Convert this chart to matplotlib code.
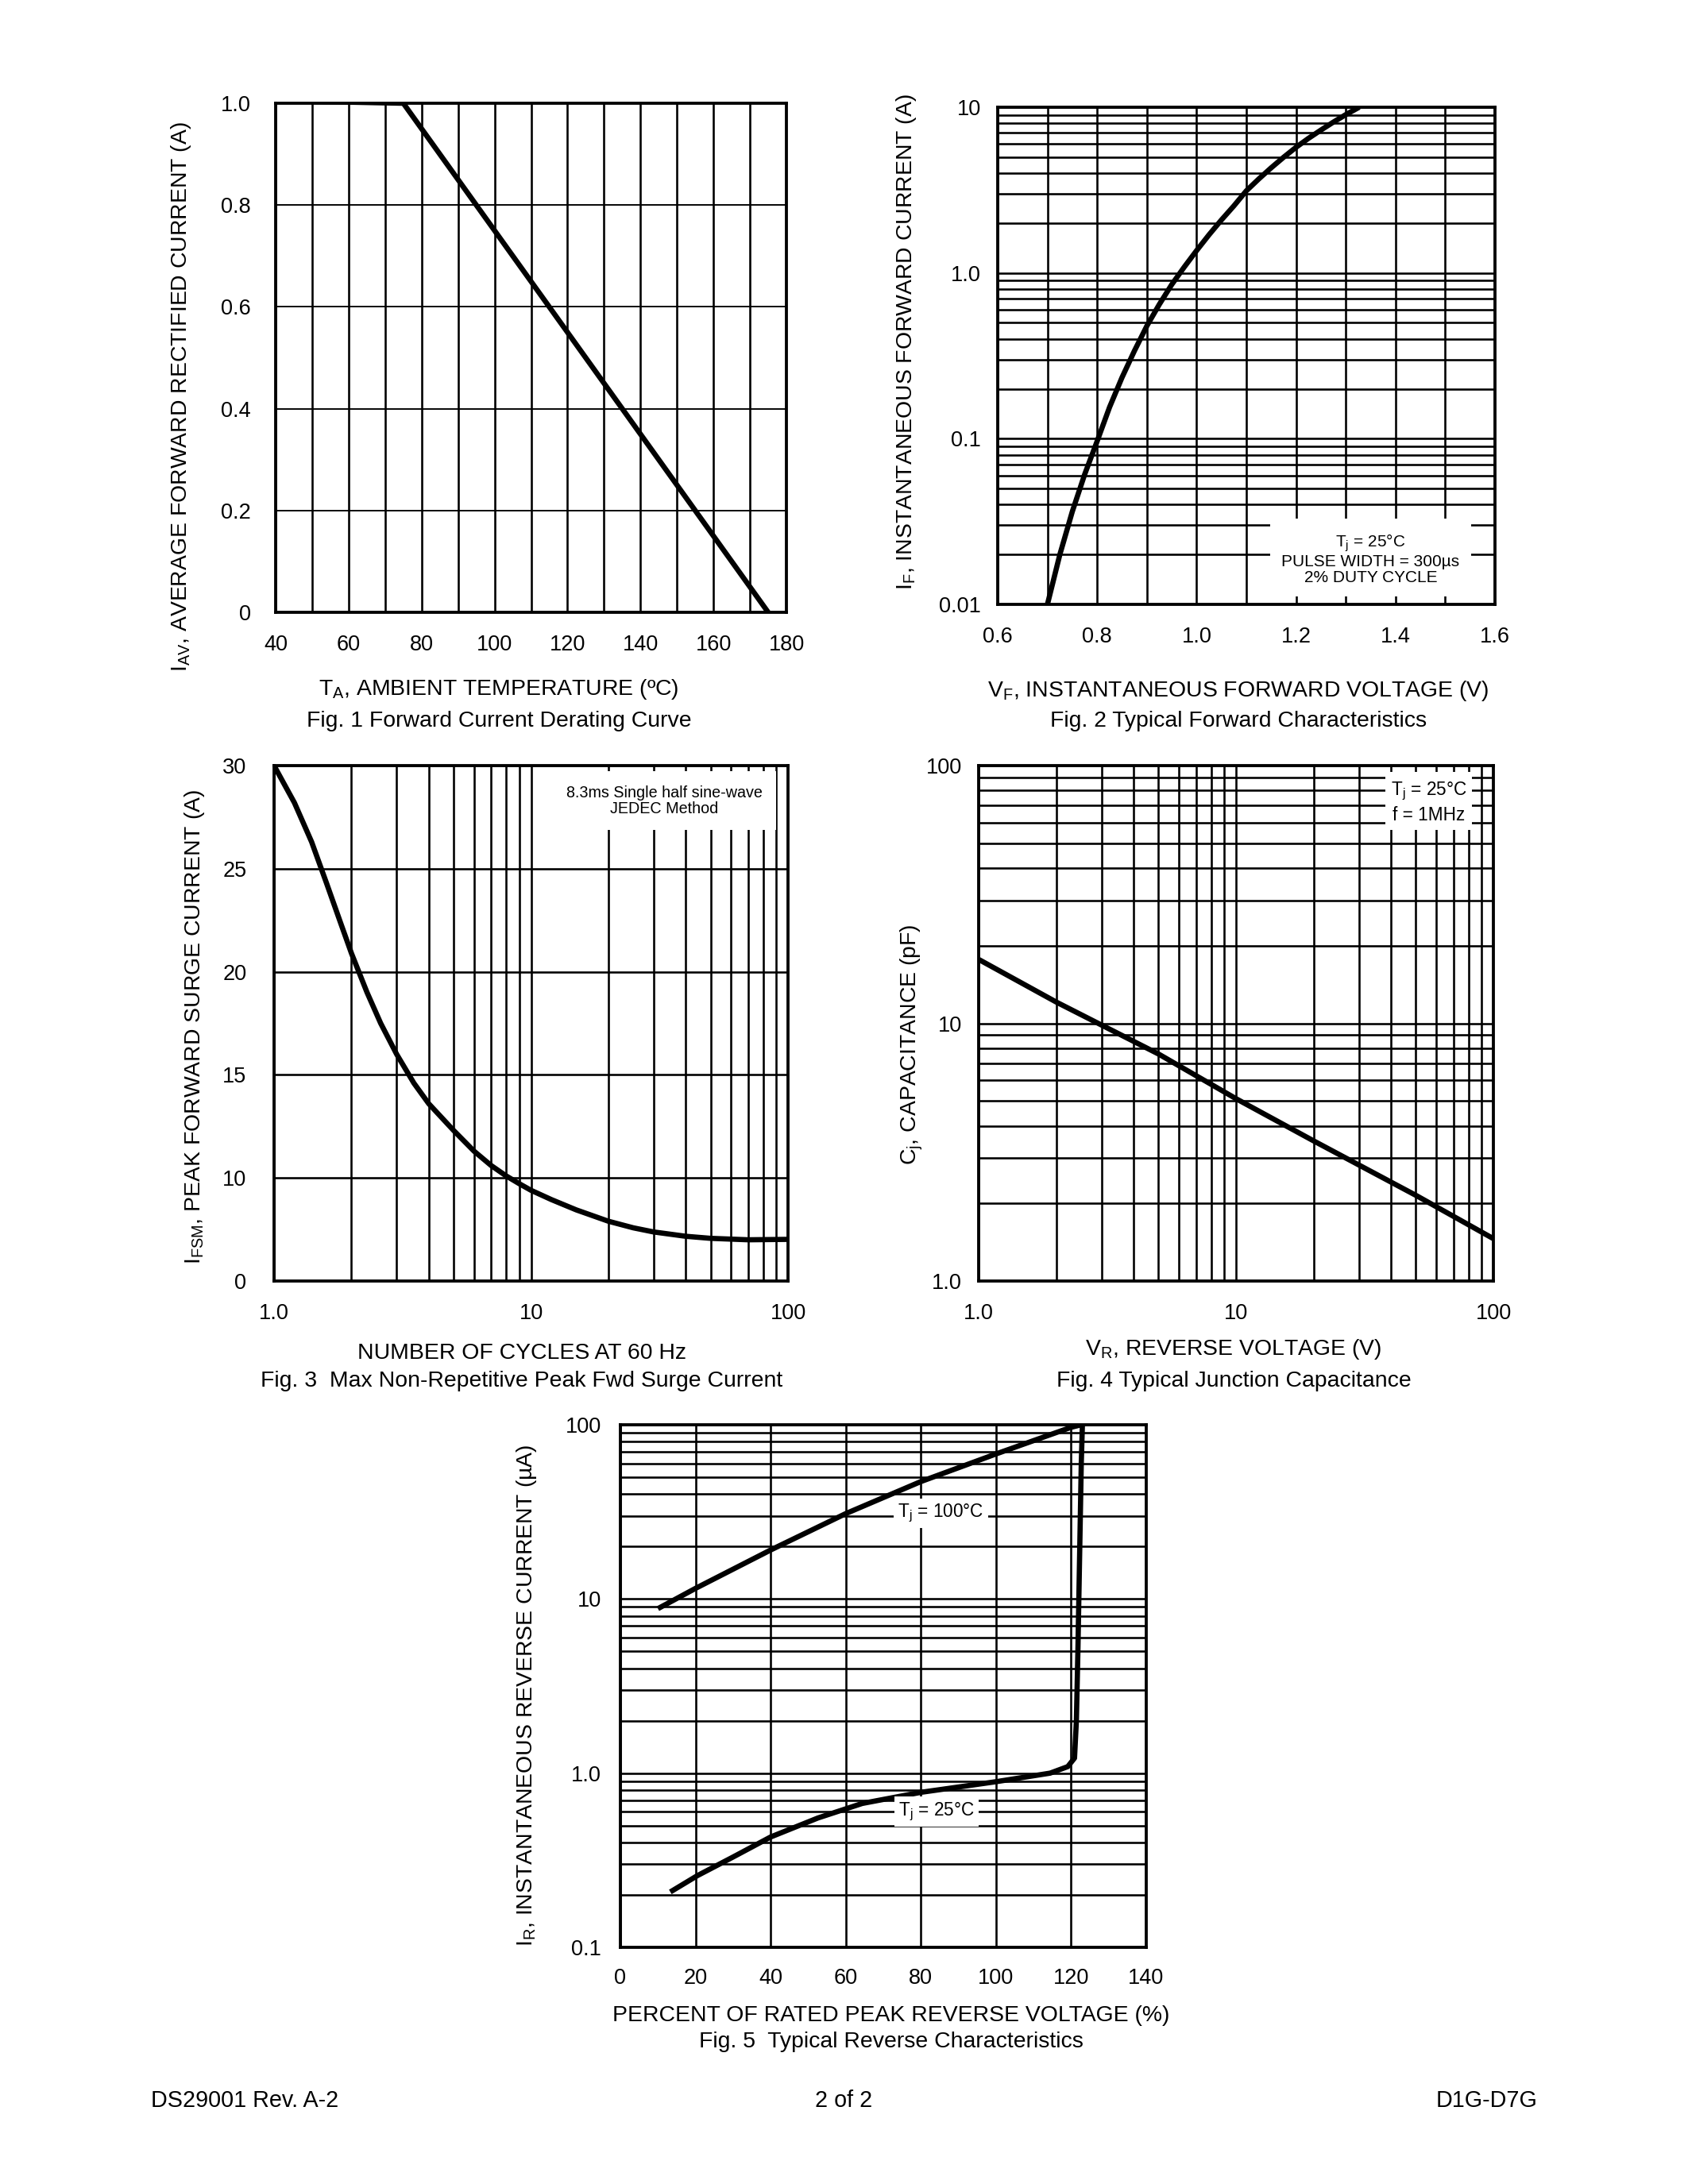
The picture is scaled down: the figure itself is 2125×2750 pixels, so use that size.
import matplotlib
matplotlib.use("Agg")
import matplotlib.pyplot as plt
import numpy as np
from matplotlib.ticker import FixedLocator, NullFormatter, LogLocator

plt.rcParams['font.family'] = ['Liberation Sans', 'DejaVu Sans']
plt.rcParams['mathtext.default'] = 'regular'

# Fig. 1 derating curve
temp_c = [40, 75, 175]
iav_a = [1.005, 1.0, 0.0]

# Fig. 2 forward characteristics
vf_v = [0.70, 0.725, 0.75, 0.775, 0.80, 0.825, 0.85, 0.875, 0.90, 0.925, 0.95,
        0.975, 1.00, 1.025, 1.05, 1.075, 1.10, 1.125, 1.15, 1.175, 1.20, 1.225,
        1.25, 1.275, 1.30, 1.327]
if_a = [0.0100, 0.0200, 0.0363, 0.0610, 0.0966, 0.155, 0.234, 0.339, 0.479,
        0.646, 0.851, 1.084, 1.365, 1.70, 2.09, 2.54, 3.13, 3.69, 4.31, 4.99,
        5.73, 6.49, 7.28, 8.13, 9.02, 10.0]

# Fig. 3 surge current (the bottom gridline is labelled "0" on the sheet)
cycles = [1.0, 1.2, 1.4, 1.6, 1.8, 2.0, 2.3, 2.6, 3.0, 3.5, 4.0, 5.0, 6.0, 7.0,
          8.0, 9.0, 10, 12, 15, 20, 25, 30, 40, 50, 70, 100]
ifsm_a = [30, 28.2, 26.3, 24.3, 22.5, 20.9, 19.0, 17.5, 16.0, 14.6, 13.6, 12.3,
          11.3, 10.6, 10.1, 9.72, 9.4, 8.95, 8.45, 7.9, 7.58, 7.38, 7.17, 7.07,
          7.0, 7.02]
fig3_yticks = [5, 10, 15, 20, 25, 30]
fig3_ylabels = ["0", "10", "15", "20", "25", "30"]

# Fig. 4 junction capacitance
vr_v = [1, 2, 5, 10, 20, 50, 100]
cj_pf = [17.7, 12.1, 7.6, 5.1, 3.5, 2.15, 1.46]

# Fig. 5 reverse characteristics
pct_100 = [10, 20, 40, 60, 80, 100, 120, 122.7]
ir_100 = [8.8, 11.5, 19.1, 30.9, 47.2, 68, 96.7, 100]
pct_25 = [13.3, 20.5, 30, 40, 52.6, 64.4, 80, 100, 114.4, 119.1, 120.9,
          121.4, 121.8, 122.2, 122.7, 123.0]
ir_25 = [0.208, 0.258, 0.33, 0.43, 0.553, 0.67, 0.776, 0.893, 1.0, 1.09, 1.22,
         2.0, 5.0, 15.0, 60.0, 100.0]

W, H = 2125, 2750
fig = plt.figure(figsize=(8.5, 11), dpi=250)


def box(x0, y0, x1, y1):
    return [x0 / W, 1 - y1 / H, (x1 - x0) / W, (y1 - y0) / H]


def ftext(x, y, s, **kw):
    fig.text(x / W, 1 - y / H, s, **kw)


GRID = dict(color='k', lw=0.75)
CURVE = dict(color='k', lw=1.9, solid_capstyle='butt', solid_joinstyle='round')
TICKFS = 7.8
LABFS = 8.2


def style(ax, xpad, ypad):
    for s in ax.spines.values():
        s.set_linewidth(1.1)
    ax.tick_params(which='both', length=0, labelsize=TICKFS)
    ax.tick_params(axis='x', pad=xpad)
    ax.tick_params(axis='y', pad=ypad)
    ax.set_axisbelow(True)


# ---------- Fig 1 ----------
ax1 = fig.add_axes(box(347, 130, 990, 771))
ax1.plot(temp_c, iav_a, **CURVE)
ax1.set_xlim(40, 180)
ax1.set_ylim(0, 1.0)
ax1.set_xticks(np.arange(40, 181, 20))
ax1.set_yticks([0, 0.2, 0.4, 0.6, 0.8, 1.0])
ax1.set_yticklabels(["0", "0.2", "0.4", "0.6", "0.8", "1.0"])
ax1.xaxis.set_minor_locator(FixedLocator(np.arange(50, 180, 20)))
ax1.grid(True, which='both', axis='x', **GRID)
ax1.grid(True, which='major', axis='y', color='k', lw=0.55)
style(ax1, 8, 9)
ftext(228, 500, "I$_{AV}$, AVERAGE FORWARD RECTIFIED CURRENT (A)", rotation=90,
      ha='center', va='center', fontsize=LABFS)
ftext(628, 868, "T$_A$, AMBIENT TEMPERATURE (ºC)", ha='center', va='center', fontsize=LABFS)
ftext(628, 908, "Fig. 1 Forward Current Derating Curve", ha='center', va='center', fontsize=LABFS)

# ---------- Fig 2 ----------
ax2 = fig.add_axes(box(1256, 135, 1882, 761))
ax2.plot(vf_v, if_a, **CURVE)
ax2.set_yscale('log')
ax2.set_xlim(0.6, 1.6)
ax2.set_ylim(0.01, 10)
ax2.set_xticks([0.6, 0.8, 1.0, 1.2, 1.4, 1.6])
ax2.set_xticklabels(["0.6", "0.8", "1.0", "1.2", "1.4", "1.6"])
ax2.xaxis.set_minor_locator(FixedLocator([0.7, 0.9, 1.1, 1.3, 1.5]))
ax2.set_yticks([0.01, 0.1, 1, 10])
ax2.set_yticklabels(["0.01", "0.1", "1.0", "10"])
ax2.yaxis.set_minor_locator(LogLocator(base=10, subs=np.arange(2, 10)))
ax2.yaxis.set_minor_formatter(NullFormatter())
ax2.grid(True, which='both', **GRID)
style(ax2, 8, 6)
ax2.text(1.35, 0.0188, "T$_j$ = 25°C\nPULSE WIDTH = 300µs\n2% DUTY CYCLE", ha='center',
         va='center', fontsize=6, linespacing=1.05,
         bbox=dict(facecolor='white', edgecolor='none', pad=4))
ftext(1141, 431, "I$_F$, INSTANTANEOUS FORWARD CURRENT (A)", rotation=90,
      ha='center', va='center', fontsize=LABFS)
ftext(1559, 870, "V$_F$, INSTANTANEOUS FORWARD VOLTAGE (V)", ha='center', va='center', fontsize=LABFS)
ftext(1559, 908, "Fig. 2 Typical Forward Characteristics", ha='center', va='center', fontsize=LABFS)

# ---------- Fig 3 ----------
ax3 = fig.add_axes(box(345, 964, 992, 1613))
ax3.plot(cycles, ifsm_a, **CURVE)
ax3.set_xscale('log')
ax3.set_xlim(1, 100)
ax3.set_ylim(5, 30)
ax3.set_xticks([1, 10, 100])
ax3.set_xticklabels(["1.0", "10", "100"])
ax3.xaxis.set_minor_locator(LogLocator(base=10, subs=np.arange(2, 10)))
ax3.xaxis.set_minor_formatter(NullFormatter())
ax3.set_yticks(fig3_yticks)
ax3.set_yticklabels(fig3_ylabels)
ax3.grid(True, which='both', axis='x', **GRID)
ax3.grid(True, which='major', axis='y', **GRID)
style(ax3, 8, 10)
ax3.text(33, 28.3, "8.3ms Single half sine-wave\nJEDEC Method", ha='center', va='center',
         fontsize=5.7, linespacing=1.05,
         bbox=dict(facecolor='white', edgecolor='none', pad=5))
ftext(245, 1293, "I$_{FSM}$, PEAK FORWARD SURGE CURRENT (A)", rotation=90,
      ha='center', va='center', fontsize=LABFS)
ftext(657, 1704, "NUMBER OF CYCLES AT 60 Hz", ha='center', va='center', fontsize=LABFS)
ftext(657, 1739, "Fig. 3  Max Non-Repetitive Peak Fwd Surge Current", ha='center',
      va='center', fontsize=LABFS)

# ---------- Fig 4 ----------
ax4 = fig.add_axes(box(1232, 964, 1880, 1613))
ax4.plot(vr_v, cj_pf, **CURVE)
ax4.set_xscale('log')
ax4.set_yscale('log')
ax4.set_xlim(1, 100)
ax4.set_ylim(1, 100)
ax4.set_xticks([1, 10, 100])
ax4.set_xticklabels(["1.0", "10", "100"])
ax4.set_yticks([1, 10, 100])
ax4.set_yticklabels(["1.0", "10", "100"])
for a in (ax4.xaxis, ax4.yaxis):
    a.set_minor_locator(LogLocator(base=10, subs=np.arange(2, 10)))
    a.set_minor_formatter(NullFormatter())
ax4.grid(True, which='both', **GRID)
style(ax4, 8, 6)
ax4.text(56, 72, "T$_j$ = 25°C\nf = 1MHz", ha='center', va='center', fontsize=6.5,
         linespacing=1.25, bbox=dict(facecolor='white', edgecolor='none', pad=2))
ftext(1148, 1315, "C$_j$, CAPACITANCE (pF)", rotation=90, ha='center', va='center', fontsize=LABFS)
ftext(1553, 1699, "V$_R$, REVERSE VOLTAGE (V)", ha='center', va='center', fontsize=LABFS)
ftext(1553, 1739, "Fig. 4 Typical Junction Capacitance", ha='center', va='center', fontsize=LABFS)

# ---------- Fig 5 ----------
ax5 = fig.add_axes(box(781, 1794, 1443, 2452))
ax5.plot(pct_100, ir_100, **CURVE)
ax5.plot(pct_25, ir_25, **CURVE)
ax5.set_yscale('log')
ax5.set_xlim(0, 140)
ax5.set_ylim(0.1, 100)
ax5.set_xticks(np.arange(0, 141, 20))
ax5.set_yticks([0.1, 1, 10, 100])
ax5.set_yticklabels(["0.1", "1.0", "10", "100"])
ax5.yaxis.set_minor_locator(LogLocator(base=10, subs=np.arange(2, 10)))
ax5.yaxis.set_minor_formatter(NullFormatter())
ax5.grid(True, which='both', **GRID)
style(ax5, 7.5, 7)
ax5.text(85.3, 31, "T$_j$ = 100°C", ha='center', va='center', fontsize=6.5,
         bbox=dict(facecolor='white', edgecolor='none', pad=1.5))
ax5.text(84.1, 0.6, "T$_j$ = 25°C", ha='center', va='center', fontsize=6.5,
         bbox=dict(facecolor='white', edgecolor='none', pad=1.5))
ftext(663, 2135, "I$_R$, INSTANTANEOUS REVERSE CURRENT (µA)", rotation=90,
      ha='center', va='center', fontsize=LABFS)
ftext(1122, 2538, "PERCENT OF RATED PEAK REVERSE VOLTAGE (%)", ha='center', va='center', fontsize=LABFS)
ftext(1122, 2571, "Fig. 5  Typical Reverse Characteristics", ha='center', va='center', fontsize=LABFS)

# footer
ftext(190, 2645, "DS29001 Rev. A-2", ha='left', va='center', fontsize=8.3)
ftext(1062, 2645, "2 of 2", ha='center', va='center', fontsize=8.3)
ftext(1936, 2645, "D1G-D7G", ha='right', va='center', fontsize=8.3)

fig.savefig("out.png", dpi=250, facecolor='white')
